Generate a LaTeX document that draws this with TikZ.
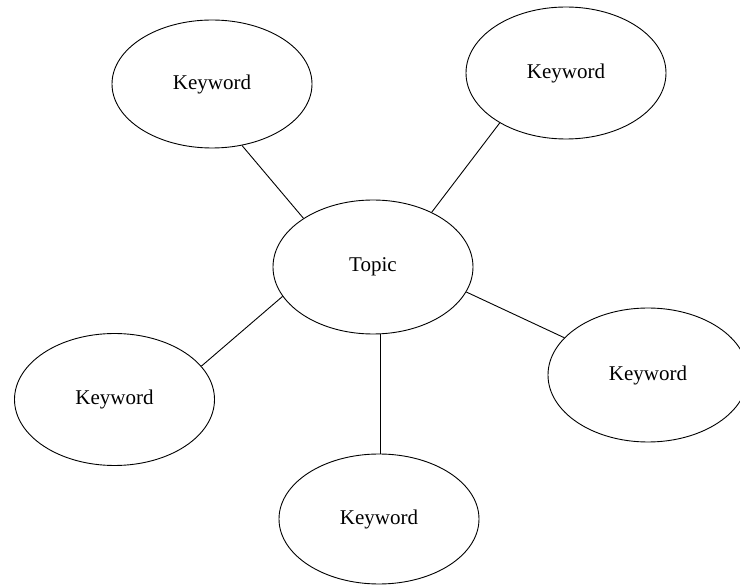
\documentclass[tikz,border=0pt]{standalone}
\usepackage{fontspec}
\setmainfont{Liberation Serif}
\usetikzlibrary{shapes.geometric}
\begin{document}
\begin{tikzpicture}[x=1pt,y=-1pt,
  bubble/.style={draw, ellipse, line width=0.9pt, inner sep=0pt,
    minimum width=200pt, minimum height=132pt, font=\fontsize{21}{24}\selectfont},
  link/.style={line width=0.9pt}]
\useasboundingbox (0,0) rectangle (740,585);
\node[bubble, minimum height=128pt] (tl) at (212,84) {Keyword};
\node[bubble] (tr) at (566,73) {Keyword};
\node[bubble, minimum height=134pt] (t) at (373,267) {Topic};
\node[bubble] (bl) at (114.5,399.5) {Keyword};
\node[bubble, minimum height=134pt] (r) at (648,375) {Keyword};
\node[bubble, minimum height=130pt] (b) at (379,519) {Keyword};
\draw[link] (tl.-64) -- (t.145);
\draw[link] (tr.217) -- (t.43);
\draw[link] (t.198) -- (bl.21);
\draw[link] (t.-15.5) -- (r.156);
\draw[link] (t.-84) -- (t.-84 |- b.north);
\end{tikzpicture}
\end{document}
